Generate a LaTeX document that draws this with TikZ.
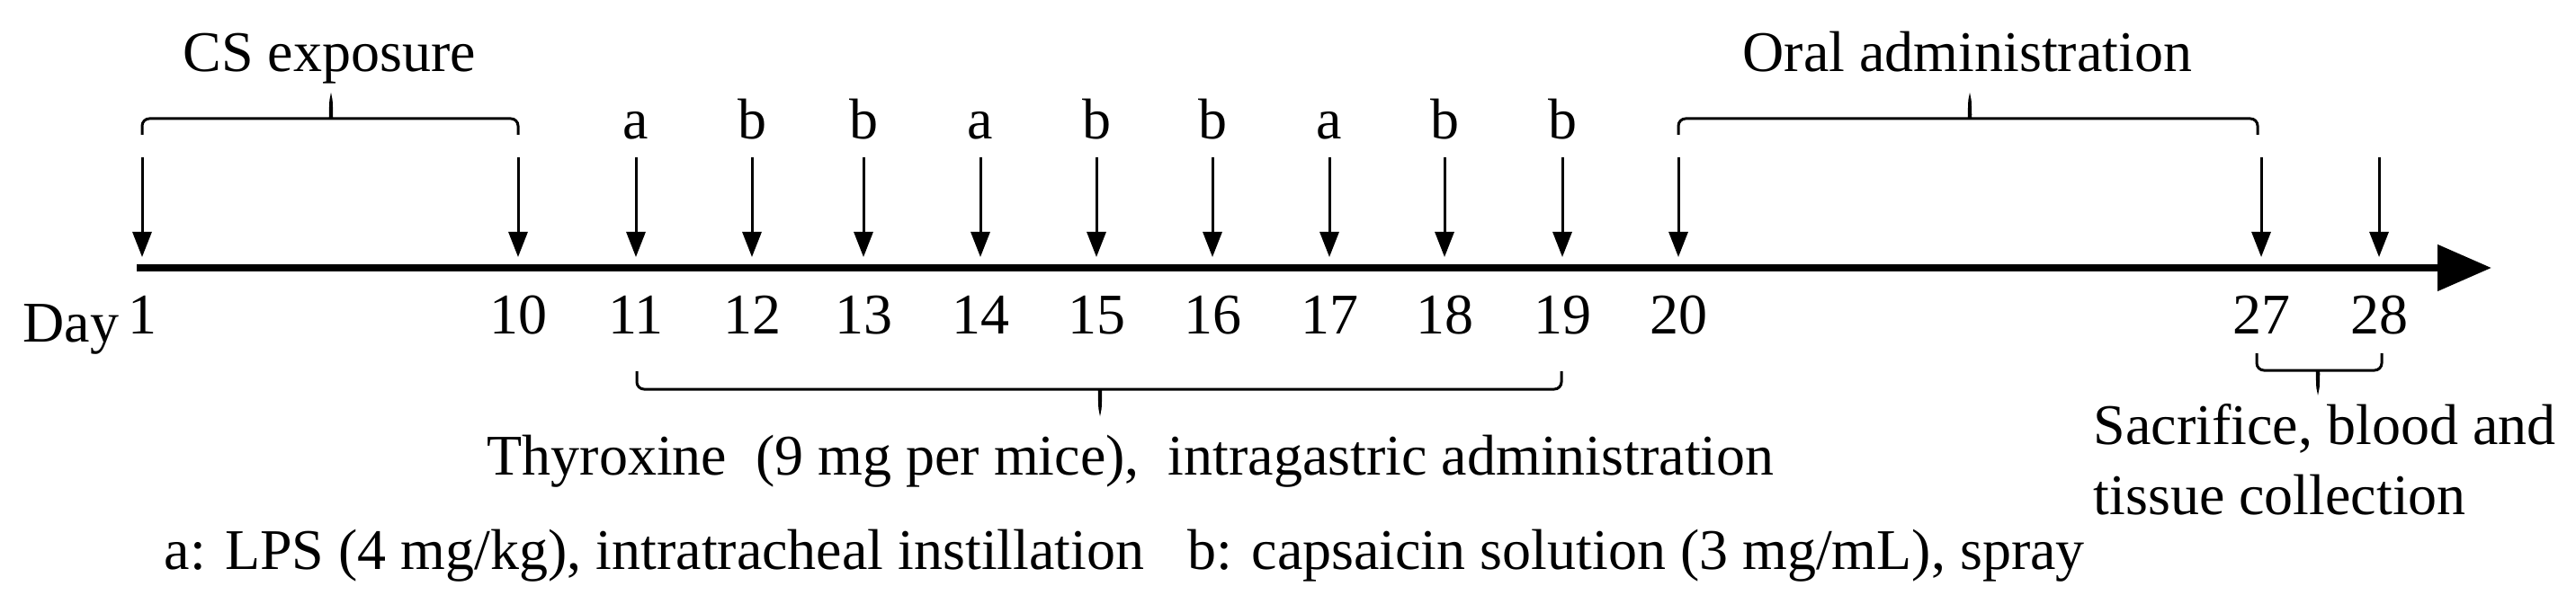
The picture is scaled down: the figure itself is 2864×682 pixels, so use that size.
\documentclass[tikz,border=0pt]{standalone}
\usepackage{fontspec}
\setmainfont{Liberation Serif}
\usetikzlibrary{arrows.meta,positioning}

\begin{document}
\begin{tikzpicture}[
  x=0.01cm,y=-0.01cm,
  every node/.style={font=\fontsize{18.2}{22.2}\selectfont,inner sep=0pt},
  axis/.style={-{Triangle[length=6mm,width=5mm]},line width=0.8mm},
  tick/.style={-{Triangle[length=2.8mm,width=2.1mm]},line width=0.3mm},
  brk/.style={line width=0.3mm,rounded corners=0.8mm}
]
\useasboundingbox (0,0) rectangle (2864,682);
% time axis
\coordinate (axstart) at (152,298);
\coordinate (axend) at (2770,298);
\draw[axis] (axstart) -- (axend);
\node[anchor=base west] (day) at (25,380) {Day};
% days with arrows
\foreach \d/\x in {1/158,10/576,11/707,12/836,13/960,14/1090,15/1219,16/1348,17/1478,18/1606,19/1737,20/1866,27/2514,28/2645}{
  \coordinate (top\d) at (\x,175);
  \coordinate (tip\d) at (\x,286);
  \draw[tick] (top\d) -- (tip\d);
  \node[anchor=base] (n\d) at (\x,371) {\d};
}
% treatment letters
\foreach \d/\x/\t in {11/707/a,12/836/b,13/960/b,14/1090/a,15/1219/b,16/1348/b,17/1478/a,18/1606/b,19/1737/b}
  \node[anchor=base] (lt\d) at (\x,155) {\t};
% braces
\draw[brk] (158,150) -- (158,132) -- (361,132) .. controls (367,132) .. (368,106) .. controls (369,132) .. (375,132) -- (576,132) -- (576,150);
\draw[brk] (1866,150) -- (1866,132) -- (2183,132) .. controls (2189,132) .. (2190,106) .. controls (2191,132) .. (2197,132) -- (2510,132) -- (2510,150);
\draw[brk] (708,413) -- (708,433) -- (1216,433) .. controls (1222,433) .. (1223,460) .. controls (1224,433) .. (1230,433) -- (1736,433) -- (1736,413);
\draw[brk] (2509,393) -- (2509,412) -- (2570,412) .. controls (2576,412) .. (2577,437) .. controls (2578,412) .. (2584,412) -- (2648,412) -- (2648,393);
% labels
\node[anchor=base west] (cs) at (203,80) {CS exposure};
\node[anchor=base west] (oral) at (1937,80) {Oral administration};
\node[anchor=base west] (thy) at (541,528) {Thyroxine~ (9 mg per mice),~ intragastric administration};
\node[anchor=north west,align=left] (sac) at (2327,449) {Sacrifice, blood and\\tissue collection};
\node[anchor=base west] (legend) at (182,633) {a: LPS (4 mg/kg), intratracheal instillation~~ b: capsaicin solution (3 mg/mL), spray};
\end{tikzpicture}
\end{document}
